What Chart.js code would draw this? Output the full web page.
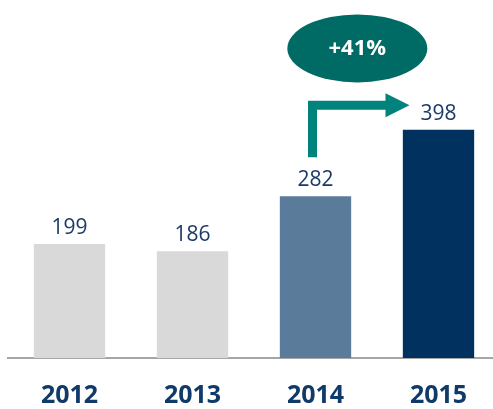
<!DOCTYPE html>
<html lang="en">
<head>
<meta charset="UTF-8">
<script src="https://cdn.jsdelivr.net/npm/chart.js@4.4.1/dist/chart.umd.min.js"></script>
<title>Growth 2012-2015</title>
<style>
  html, body { margin: 0; padding: 0; overflow: hidden; background: #fff; }
  #wrap { width: 500px; height: 440px; }
</style>
</head>
<body>
<div id="wrap"><canvas id="bars"></canvas></div>
<script>
const years = ["2012", "2013", "2014", "2015"];
const values = [199, 186, 282, 398];
const barColors = ["#d9d9d9", "#d9d9d9", "#5b7b9b", "#00315f"];
const growthLabel = "+41%";

// value labels above each bar
const valueLabels = {
  id: "valueLabels",
  afterDatasetsDraw(chart) {
    const ctx = chart.ctx;
    const meta = chart.getDatasetMeta(0);
    ctx.save();
    ctx.font = "21px 'Open Sans'";
    ctx.fillStyle = "#1b3a66";
    ctx.textAlign = "center";
    ctx.textBaseline = "alphabetic";
    meta.data.forEach((bar, i) => {
      ctx.fillText(String(values[i]), bar.x, bar.y - 10);
    });
    ctx.restore();
  }
};

// elbow arrow from 2014 to 2015 and the growth bubble
const growthCallout = {
  id: "growthCallout",
  afterDraw(chart) {
    const ctx = chart.ctx;
    const x = chart.scales.x, y = chart.scales.y;
    const x14 = x.getPixelForValue(2), x15 = x.getPixelForValue(3);
    const stemX = x14 - 3;
    const stemBottom = y.getPixelForValue(350);
    const armY = y.getPixelForValue(441);
    const headBase = x15 - 52;
    const tip = x15 - 29;

    ctx.save();
    ctx.strokeStyle = "#00837c";
    ctx.fillStyle = "#00837c";
    ctx.lineWidth = 9;
    ctx.lineJoin = "miter";
    ctx.beginPath();
    ctx.moveTo(stemX, stemBottom);
    ctx.lineTo(stemX, armY);
    ctx.lineTo(headBase, armY);
    ctx.stroke();
    ctx.beginPath();
    ctx.moveTo(headBase - 1, armY - 12);
    ctx.lineTo(tip, armY);
    ctx.lineTo(headBase - 1, armY + 12);
    ctx.closePath();
    ctx.fill();

    const cx = x14 + 0.34 * (x15 - x14);
    const cy = y.getPixelForValue(540);
    ctx.fillStyle = "#006a64";
    ctx.beginPath();
    ctx.ellipse(cx, cy, 70, 34, 0, 0, Math.PI * 2);
    ctx.fill();
    ctx.fillStyle = "#ffffff";
    ctx.font = "bold 22px 'Open Sans'";
    ctx.textAlign = "center";
    ctx.textBaseline = "middle";
    ctx.fillText(growthLabel, cx, cy);
    ctx.restore();
  }
};

new Chart(document.getElementById("bars"), {
  type: "bar",
  data: {
    labels: years,
    datasets: [{
      data: values,
      backgroundColor: barColors,
      barPercentage: 0.58,
      categoryPercentage: 1
    }]
  },
  options: {
    responsive: true,
    maintainAspectRatio: false,
    animation: false,
    layout: { padding: { left: 8, right: 0, top: 14, bottom: 6 } },
    plugins: { legend: { display: false }, tooltip: { enabled: false } },
    scales: {
      y: { display: false, min: 0, max: 600 },
      x: {
        grid: { display: false, drawTicks: false },
        border: { display: true, color: "#a6a6a6", width: 2 },
        ticks: {
          padding: 23,
          color: "#0f3a6a",
          font: { family: "'Open Sans'", size: 25, weight: "bold" }
        }
      }
    }
  },
  plugins: [valueLabels, growthCallout]
});
</script>
</body>
</html>
